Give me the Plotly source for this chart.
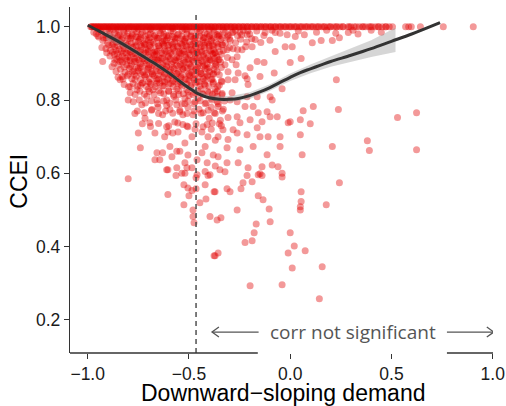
import plotly.graph_objects as go

# Subjects at the CCEI ceiling (CCEI = 1), by demand slope
ceiling_x = [-0.985, -0.978, -0.97, -0.962, -0.955, -0.947, -0.94, -0.931, -0.924, -0.916,
             -0.909, -0.9, -0.893, -0.885, -0.877, -0.87, -0.861, -0.853, -0.846, -0.838,
             -0.83, -0.822, -0.815, -0.806, -0.798, -0.79, -0.783, -0.774, -0.766, -0.758,
             -0.75, -0.742, -0.735, -0.726, -0.718, -0.71, -0.702, -0.694, -0.686, -0.678,
             -0.67, -0.661, -0.653, -0.645, -0.637, -0.628, -0.62, -0.611, -0.603, -0.595,
             -0.586, -0.578, -0.569, -0.561, -0.552, -0.544, -0.535, -0.527, -0.518, -0.51,
             -0.501, -0.492, -0.484, -0.475, -0.466, -0.457, -0.448, -0.44, -0.431, -0.422,
             -0.413, -0.404, -0.395, -0.386, -0.377, -0.368, -0.358, -0.349, -0.34, -0.33,
             -0.321, -0.311, -0.302, -0.292, -0.283, -0.273, -0.262, -0.252, -0.241, -0.231,
             -0.22, -0.21, -0.199, -0.188, -0.176, -0.165, -0.154, -0.142, -0.131, -0.119,
             -0.107, -0.095, -0.083, -0.071, -0.058, -0.046, -0.033, -0.02, -0.007, 0.006,
             0.019, 0.032, 0.046, 0.06, 0.073, 0.087, 0.1, 0.114, 0.128, 0.142, 0.156, 0.171,
             0.186, 0.2, 0.216, 0.231, 0.246, 0.262, 0.285, 0.3, 0.316, 0.341, 0.356, 0.372,
             0.389, 0.405, 0.421, 0.438, 0.455, 0.472, 0.489, 0.505, 0.57, 0.585, 0.598,
             0.643, 0.756, 0.904]
ceiling_x_more = [-0.98, -0.966, -0.951, -0.937, -0.92, -0.905, -0.889, -0.874, -0.858, -0.842,
                  -0.826, -0.81, -0.794, -0.779, -0.762, -0.746, -0.73, -0.714, -0.698, -0.682,
                  -0.665, -0.649, -0.633, -0.616, -0.6, -0.583, -0.566, -0.549, -0.532, -0.515,
                  -0.497, -0.48, -0.462, -0.444, -0.426, -0.408, -0.39, -0.371, -0.352, -0.333,
                  -0.314, -0.294, -0.274, -0.254, -0.233, -0.212, -0.19, -0.168, -0.145, -0.122,
                  -0.098, -0.074, -0.05, -0.025, 0.0, 0.026, 0.053, 0.08, 0.108, 0.137, 0.166,
                  0.196, 0.227, 0.259, 0.292, 0.326, 0.361, 0.397, 0.434, 0.472]

# Subjects just under the ceiling
near_top = [(-0.97, 0.985), (-0.95, 0.975), (-0.93, 0.99), (-0.91, 0.97), (-0.89, 0.982),
            (-0.87, 0.965), (-0.86, 0.99), (-0.84, 0.975), (-0.82, 0.985), (-0.80, 0.968),
            (-0.78, 0.98), (-0.77, 0.992), (-0.75, 0.972), (-0.73, 0.985), (-0.71, 0.965),
            (-0.70, 0.978), (-0.68, 0.99), (-0.66, 0.97), (-0.64, 0.983), (-0.62, 0.962),
            (-0.61, 0.975), (-0.59, 0.988), (-0.57, 0.97), (-0.55, 0.98), (-0.53, 0.965),
            (-0.51, 0.99), (-0.49, 0.975), (-0.47, 0.96), (-0.45, 0.985), (-0.43, 0.97),
            (-0.41, 0.98), (-0.39, 0.962), (-0.38, 0.99), (-0.35, 0.975), (-0.32, 0.985),
            (-0.30, 0.968), (-0.27, 0.99), (-0.24, 0.978), (-0.21, 0.988), (-0.361, 0.978),
            (-0.287, 0.984), (-0.248, 0.984), (-0.213, 0.978), (-0.173, 0.965), (-0.124, 0.984),
            (-0.074, 0.984), (-0.015, 0.978), (0.025, 0.973), (0.109, 0.956), (0.153, 0.962),
            (0.208, 0.962), (0.243, 0.97), (0.287, 0.984), (-0.95, 0.993), (-0.9, 0.994),
            (-0.85, 0.992), (-0.8, 0.995), (-0.75, 0.993), (-0.69, 0.994), (-0.63, 0.992),
            (-0.58, 0.995), (-0.52, 0.993), (-0.46, 0.994), (-0.4, 0.992),
            (-0.958, 0.981), (-0.936, 0.987), (-0.913, 0.978), (-0.892, 0.99), (-0.868, 0.983),
            (-0.847, 0.976), (-0.823, 0.99), (-0.802, 0.982), (-0.78, 0.975), (-0.758, 0.986),
            (-0.736, 0.979), (-0.713, 0.99), (-0.69, 0.981), (-0.668, 0.976), (-0.646, 0.989),
            (-0.623, 0.98), (-0.6, 0.975), (-0.578, 0.987), (-0.556, 0.978), (-0.533, 0.99),
            (-0.51, 0.98), (-0.488, 0.987), (-0.466, 0.976), (-0.443, 0.99), (-0.421, 0.982),
            (-0.398, 0.975), (-0.375, 0.986), (-0.352, 0.98), (-0.33, 0.99), (-0.306, 0.977),
            (-0.283, 0.985), (-0.26, 0.975), (-0.232, 0.99), (-0.2, 0.98), (-0.165, 0.988),
            (-0.13, 0.976), (-0.09, 0.99), (-0.05, 0.982), (0.04, 0.988), (0.07, 0.978),
            (0.13, 0.985), (0.18, 0.99), (0.225, 0.982), (0.31, 0.99), (0.335, 0.98),
            (0.4, 0.99), (0.45, 0.985)]

# Steep-demand cluster, CCEI roughly 0.85-0.97
upper_cluster = [(-0.93, 0.943), (-0.906, 0.929), (-0.88, 0.95), (-0.86, 0.935), (-0.84, 0.958),
                 (-0.82, 0.94), (-0.80, 0.952), (-0.79, 0.93), (-0.77, 0.945), (-0.75, 0.96),
                 (-0.74, 0.935), (-0.72, 0.95), (-0.70, 0.94), (-0.69, 0.958), (-0.67, 0.93),
                 (-0.65, 0.948), (-0.63, 0.96), (-0.62, 0.935), (-0.60, 0.95), (-0.58, 0.94),
                 (-0.57, 0.958), (-0.55, 0.932), (-0.53, 0.947), (-0.52, 0.96), (-0.50, 0.938),
                 (-0.48, 0.952), (-0.46, 0.93), (-0.44, 0.945), (-0.42, 0.958), (-0.40, 0.935),
                 (-0.385, 0.95), (-0.926, 0.905), (-0.88, 0.891), (-0.866, 0.91), (-0.84, 0.905),
                 (-0.83, 0.92), (-0.807, 0.896), (-0.79, 0.915), (-0.78, 0.877), (-0.77, 0.905),
                 (-0.76, 0.925), (-0.74, 0.89), (-0.73, 0.912), (-0.71, 0.9), (-0.70, 0.922),
                 (-0.68, 0.895), (-0.67, 0.91), (-0.66, 0.925), (-0.64, 0.9), (-0.63, 0.915),
                 (-0.61, 0.89), (-0.60, 0.92), (-0.58, 0.905), (-0.56, 0.895), (-0.55, 0.918),
                 (-0.53, 0.9), (-0.52, 0.925), (-0.50, 0.91), (-0.49, 0.89), (-0.47, 0.915),
                 (-0.45, 0.9), (-0.43, 0.92), (-0.42, 0.895), (-0.40, 0.91), (-0.38, 0.925),
                 (-0.37, 0.9), (-0.84, 0.855), (-0.83, 0.864), (-0.80, 0.87), (-0.767, 0.855),
                 (-0.75, 0.88), (-0.728, 0.847), (-0.72, 0.868), (-0.70, 0.885), (-0.693, 0.847),
                 (-0.68, 0.87), (-0.66, 0.858), (-0.65, 0.88), (-0.63, 0.852), (-0.62, 0.87),
                 (-0.60, 0.86), (-0.59, 0.882), (-0.57, 0.85), (-0.56, 0.872), (-0.54, 0.86),
                 (-0.53, 0.885), (-0.51, 0.855), (-0.50, 0.87), (-0.48, 0.86), (-0.47, 0.88),
                 (-0.45, 0.85), (-0.44, 0.872), (-0.42, 0.862), (-0.41, 0.885), (-0.39, 0.855),
                 (-0.38, 0.87),
                 (-0.925, 0.962), (-0.902, 0.955), (-0.879, 0.967), (-0.857, 0.958), (-0.833, 0.965),
                 (-0.812, 0.955), (-0.79, 0.968), (-0.766, 0.958), (-0.744, 0.966), (-0.722, 0.955),
                 (-0.7, 0.963), (-0.678, 0.957), (-0.655, 0.968), (-0.633, 0.956), (-0.611, 0.964),
                 (-0.588, 0.957), (-0.566, 0.967), (-0.543, 0.955), (-0.521, 0.965), (-0.498, 0.958),
                 (-0.476, 0.968), (-0.454, 0.955), (-0.431, 0.964), (-0.41, 0.956), (-0.388, 0.967),
                 (-0.365, 0.957), (-0.343, 0.965), (-0.32, 0.955), (-0.296, 0.962), (-0.27, 0.956),
                 (-0.245, 0.966), (-0.215, 0.958), (-0.19, 0.967), (-0.145, 0.957), (-0.1, 0.963),
                 (-0.91, 0.94), (-0.888, 0.935), (-0.866, 0.945), (-0.845, 0.938), (-0.823, 0.947),
                 (-0.8, 0.936), (-0.778, 0.943), (-0.756, 0.935), (-0.734, 0.946), (-0.712, 0.937),
                 (-0.69, 0.944), (-0.667, 0.934), (-0.645, 0.942), (-0.622, 0.947), (-0.6, 0.936),
                 (-0.577, 0.943), (-0.555, 0.945), (-0.533, 0.935), (-0.511, 0.946), (-0.489, 0.937),
                 (-0.467, 0.944), (-0.445, 0.935), (-0.423, 0.942), (-0.4, 0.947), (-0.378, 0.938),
                 (-0.356, 0.945), (-0.33, 0.935), (-0.3, 0.943), (-0.26, 0.938), (-0.22, 0.945),
                 (-0.89, 0.92), (-0.868, 0.925), (-0.846, 0.917), (-0.824, 0.928), (-0.802, 0.918),
                 (-0.78, 0.926), (-0.758, 0.915), (-0.736, 0.922), (-0.714, 0.928), (-0.692, 0.916),
                 (-0.67, 0.923), (-0.648, 0.915), (-0.626, 0.926), (-0.604, 0.918), (-0.582, 0.924),
                 (-0.56, 0.915), (-0.538, 0.927), (-0.516, 0.917), (-0.494, 0.923), (-0.472, 0.927),
                 (-0.45, 0.916), (-0.428, 0.924), (-0.406, 0.915), (-0.384, 0.926), (-0.362, 0.918),
                 (-0.34, 0.925), (-0.31, 0.916),
                 (-0.87, 0.9), (-0.85, 0.895), (-0.828, 0.903), (-0.806, 0.908), (-0.784, 0.897),
                 (-0.762, 0.905), (-0.74, 0.899), (-0.718, 0.907), (-0.696, 0.896), (-0.674, 0.903),
                 (-0.652, 0.908), (-0.63, 0.897), (-0.608, 0.904), (-0.586, 0.898), (-0.564, 0.907),
                 (-0.542, 0.896), (-0.52, 0.903), (-0.498, 0.899), (-0.476, 0.906), (-0.454, 0.895),
                 (-0.432, 0.904), (-0.41, 0.898), (-0.388, 0.907), (-0.366, 0.896), (-0.344, 0.904),
                 (-0.86, 0.878), (-0.838, 0.884), (-0.816, 0.876), (-0.794, 0.886), (-0.772, 0.879),
                 (-0.75, 0.887), (-0.728, 0.876), (-0.706, 0.883), (-0.684, 0.877), (-0.662, 0.886),
                 (-0.64, 0.878), (-0.618, 0.884), (-0.596, 0.876), (-0.574, 0.885), (-0.552, 0.877),
                 (-0.53, 0.883), (-0.508, 0.887), (-0.486, 0.876), (-0.464, 0.884), (-0.442, 0.878),
                 (-0.42, 0.886), (-0.398, 0.877), (-0.376, 0.883),
                 (-0.85, 0.862), (-0.826, 0.857), (-0.804, 0.866), (-0.782, 0.858), (-0.76, 0.865),
                 (-0.738, 0.856), (-0.716, 0.864), (-0.694, 0.858), (-0.672, 0.867), (-0.65, 0.857),
                 (-0.628, 0.863), (-0.606, 0.856), (-0.584, 0.866), (-0.562, 0.858), (-0.54, 0.864),
                 (-0.518, 0.857), (-0.496, 0.866), (-0.474, 0.856), (-0.452, 0.863), (-0.43, 0.858),
                 (-0.408, 0.866), (-0.386, 0.857)]

# Densest part of the cluster, second layer
core_cluster = [(-0.945, 0.972), (-0.921, 0.969), (-0.899, 0.974), (-0.876, 0.97), (-0.852, 0.973),
                (-0.829, 0.969), (-0.807, 0.974), (-0.784, 0.97), (-0.761, 0.973), (-0.739, 0.969),
                (-0.716, 0.974), (-0.693, 0.97), (-0.671, 0.973), (-0.649, 0.969), (-0.626, 0.974),
                (-0.604, 0.97), (-0.581, 0.973), (-0.559, 0.969), (-0.536, 0.974), (-0.514, 0.97),
                (-0.491, 0.973), (-0.469, 0.969), (-0.446, 0.974), (-0.424, 0.97), (-0.401, 0.973),
                (-0.379, 0.969), (-0.356, 0.974), (-0.334, 0.97), (-0.311, 0.973),
                (-0.897, 0.95), (-0.874, 0.953), (-0.851, 0.948), (-0.829, 0.952), (-0.806, 0.949),
                (-0.784, 0.953), (-0.761, 0.948), (-0.739, 0.951), (-0.716, 0.953), (-0.694, 0.949),
                (-0.671, 0.952), (-0.649, 0.948), (-0.626, 0.953), (-0.604, 0.949), (-0.581, 0.952),
                (-0.559, 0.948), (-0.536, 0.953), (-0.514, 0.949), (-0.491, 0.951), (-0.469, 0.948),
                (-0.446, 0.953), (-0.424, 0.949), (-0.401, 0.952), (-0.379, 0.948), (-0.356, 0.953),
                (-0.334, 0.95),
                (-0.877, 0.93), (-0.855, 0.927), (-0.833, 0.933), (-0.811, 0.929), (-0.789, 0.932),
                (-0.767, 0.928), (-0.745, 0.933), (-0.723, 0.929), (-0.701, 0.932), (-0.679, 0.928),
                (-0.657, 0.933), (-0.635, 0.929), (-0.613, 0.932), (-0.591, 0.928), (-0.569, 0.933),
                (-0.547, 0.929), (-0.525, 0.932), (-0.503, 0.928), (-0.481, 0.933), (-0.459, 0.929),
                (-0.437, 0.932), (-0.415, 0.928), (-0.393, 0.933), (-0.371, 0.929), (-0.349, 0.932),
                (-0.857, 0.912), (-0.835, 0.909), (-0.813, 0.913), (-0.791, 0.908), (-0.769, 0.912),
                (-0.747, 0.909), (-0.725, 0.913), (-0.703, 0.908), (-0.681, 0.912), (-0.659, 0.909),
                (-0.637, 0.913), (-0.615, 0.908), (-0.593, 0.912), (-0.571, 0.909), (-0.549, 0.913),
                (-0.527, 0.908), (-0.505, 0.912), (-0.483, 0.909), (-0.461, 0.913), (-0.439, 0.908),
                (-0.417, 0.912), (-0.395, 0.909), (-0.373, 0.913), (-0.351, 0.91),
                (-0.82, 0.89), (-0.79, 0.892), (-0.76, 0.889), (-0.73, 0.893), (-0.7, 0.889),
                (-0.67, 0.892), (-0.64, 0.889), (-0.61, 0.893), (-0.58, 0.889), (-0.55, 0.892),
                (-0.52, 0.889), (-0.49, 0.893), (-0.46, 0.889), (-0.43, 0.892), (-0.4, 0.889),
                (-0.37, 0.892), (-0.34, 0.889),
                (-0.77, 0.87), (-0.74, 0.873), (-0.71, 0.869), (-0.68, 0.872), (-0.65, 0.869),
                (-0.62, 0.873), (-0.59, 0.869), (-0.56, 0.872), (-0.53, 0.869), (-0.5, 0.873),
                (-0.47, 0.869), (-0.44, 0.872), (-0.41, 0.869), (-0.38, 0.872), (-0.35, 0.869),
                (-0.7, 0.85), (-0.66, 0.853), (-0.62, 0.849), (-0.58, 0.852), (-0.54, 0.849),
                (-0.5, 0.853), (-0.46, 0.849), (-0.42, 0.852), (-0.38, 0.849), (-0.34, 0.852)]

# CCEI roughly 0.68-0.85 on the steep-demand side
middle_cluster = [(-0.79, 0.836), (-0.757, 0.828), (-0.74, 0.84), (-0.708, 0.81), (-0.70, 0.83),
                  (-0.678, 0.828), (-0.66, 0.845), (-0.658, 0.80), (-0.64, 0.82), (-0.63, 0.838),
                  (-0.61, 0.80), (-0.60, 0.825), (-0.59, 0.845), (-0.575, 0.81), (-0.56, 0.83),
                  (-0.55, 0.815), (-0.54, 0.842), (-0.52, 0.805), (-0.51, 0.828), (-0.50, 0.812),
                  (-0.49, 0.84), (-0.47, 0.82), (-0.455, 0.805), (-0.44, 0.83), (-0.43, 0.815),
                  (-0.42, 0.84), (-0.40, 0.82), (-0.39, 0.805), (-0.37, 0.83), (-0.36, 0.81),
                  (-0.35, 0.84), (-0.80, 0.80), (-0.767, 0.763), (-0.733, 0.787), (-0.717, 0.75),
                  (-0.693, 0.738), (-0.683, 0.774), (-0.653, 0.78), (-0.63, 0.76), (-0.61, 0.785),
                  (-0.594, 0.774), (-0.57, 0.74), (-0.56, 0.787), (-0.545, 0.768), (-0.53, 0.76),
                  (-0.52, 0.79), (-0.505, 0.78), (-0.48, 0.76), (-0.47, 0.795), (-0.45, 0.775),
                  (-0.43, 0.765), (-0.42, 0.79), (-0.40, 0.75), (-0.39, 0.78), (-0.375, 0.765),
                  (-0.36, 0.795), (-0.345, 0.745), (-0.33, 0.775), (-0.75, 0.71), (-0.668, 0.71),
                  (-0.62, 0.70), (-0.61, 0.727), (-0.604, 0.713), (-0.58, 0.71), (-0.554, 0.713),
                  (-0.53, 0.733), (-0.505, 0.727), (-0.485, 0.70), (-0.47, 0.72), (-0.436, 0.713),
                  (-0.41, 0.733), (-0.406, 0.70), (-0.39, 0.72), (-0.37, 0.69), (-0.35, 0.735),
                  (-0.52, 0.683),
                  (-0.82, 0.842), (-0.798, 0.836), (-0.776, 0.845), (-0.754, 0.838), (-0.732, 0.846),
                  (-0.71, 0.837), (-0.688, 0.843), (-0.666, 0.836), (-0.644, 0.846), (-0.622, 0.838),
                  (-0.6, 0.844), (-0.578, 0.836), (-0.556, 0.845), (-0.534, 0.838), (-0.512, 0.843),
                  (-0.49, 0.836), (-0.468, 0.846), (-0.446, 0.838), (-0.424, 0.844), (-0.402, 0.837),
                  (-0.38, 0.845), (-0.358, 0.836),
                  (-0.79, 0.82), (-0.766, 0.815), (-0.742, 0.824), (-0.72, 0.816), (-0.696, 0.823),
                  (-0.672, 0.815), (-0.648, 0.826), (-0.624, 0.817), (-0.6, 0.823), (-0.576, 0.815),
                  (-0.552, 0.825), (-0.528, 0.817), (-0.504, 0.822), (-0.48, 0.815), (-0.456, 0.824),
                  (-0.432, 0.817), (-0.408, 0.823), (-0.384, 0.815), (-0.36, 0.824), (-0.336, 0.818),
                  (-0.775, 0.795), (-0.745, 0.8), (-0.715, 0.792), (-0.685, 0.798), (-0.655, 0.79),
                  (-0.625, 0.797), (-0.595, 0.792), (-0.565, 0.8), (-0.535, 0.79), (-0.505, 0.797),
                  (-0.475, 0.79), (-0.445, 0.798), (-0.415, 0.792), (-0.385, 0.8), (-0.355, 0.79),
                  (-0.325, 0.797),
                  (-0.755, 0.77), (-0.72, 0.765), (-0.685, 0.772), (-0.65, 0.763), (-0.615, 0.77),
                  (-0.58, 0.764), (-0.545, 0.772), (-0.51, 0.763), (-0.475, 0.77), (-0.44, 0.764),
                  (-0.405, 0.772), (-0.37, 0.763), (-0.335, 0.77),
                  (-0.73, 0.735), (-0.69, 0.728), (-0.65, 0.736), (-0.6, 0.73), (-0.555, 0.737),
                  (-0.51, 0.729), (-0.465, 0.735), (-0.43, 0.727), (-0.385, 0.737), (-0.34, 0.73)]

# Lower tail on the steep-demand side
lower_left = [(-0.74, 0.67), (-0.658, 0.656), (-0.644, 0.637), (-0.668, 0.637), (-0.63, 0.656),
              (-0.604, 0.61), (-0.594, 0.673), (-0.584, 0.645), (-0.56, 0.66), (-0.56, 0.615),
              (-0.545, 0.66), (-0.535, 0.60), (-0.51, 0.615), (-0.52, 0.629), (-0.505, 0.65),
              (-0.485, 0.615), (-0.46, 0.637), (-0.46, 0.596), (-0.436, 0.656), (-0.42, 0.673),
              (-0.41, 0.629), (-0.42, 0.605), (-0.396, 0.596), (-0.38, 0.65), (-0.37, 0.62),
              (-0.80, 0.585), (-0.604, 0.542), (-0.61, 0.61), (-0.564, 0.594), (-0.52, 0.60),
              (-0.525, 0.569), (-0.505, 0.56), (-0.50, 0.539), (-0.485, 0.553), (-0.465, 0.558),
              (-0.525, 0.514), (-0.48, 0.50), (-0.48, 0.482), (-0.475, 0.465), (-0.446, 0.52),
              (-0.416, 0.53), (-0.42, 0.569), (-0.465, 0.588), (-0.406, 0.594), (-0.396, 0.482),
              (-0.376, 0.55), (-0.376, 0.375)]

# Flatter / upward-sloping demand
right_side = [(-0.337, 0.951), (-0.312, 0.937), (-0.282, 0.94), (-0.238, 0.937), (-0.188, 0.945),
              (-0.074, 0.932), (-0.025, 0.945), (0.01, 0.945), (0.0, 0.902), (0.054, 0.913),
              (-0.356, 0.91), (-0.287, 0.91), (-0.262, 0.918), (-0.322, 0.896), (-0.163, 0.905),
              (-0.129, 0.902), (-0.198, 0.888), (-0.361, 0.877), (-0.307, 0.877), (-0.257, 0.874),
              (-0.223, 0.866), (-0.272, 0.855), (-0.213, 0.858), (-0.149, 0.864), (-0.079, 0.874),
              (-0.337, 0.85), (-0.307, 0.855), (-0.371, 0.82), (-0.337, 0.814), (-0.287, 0.82),
              (-0.208, 0.842), (-0.04, 0.831), (0.228, 0.855), (-0.356, 0.782), (-0.307, 0.752),
              (-0.262, 0.754), (-0.248, 0.738), (-0.282, 0.719), (-0.332, 0.719), (-0.356, 0.70),
              (-0.307, 0.692), (-0.262, 0.71), (-0.213, 0.705), (-0.163, 0.724), (-0.149, 0.70),
              (-0.109, 0.70), (-0.05, 0.70), (-0.01, 0.738), (0.05, 0.705), (0.064, 0.771),
              (0.114, 0.782), (0.099, 0.735), (0.238, 0.774), (0.208, 0.673), (0.059, 0.651),
              (-0.05, 0.673), (-0.114, 0.651), (-0.089, 0.623), (-0.183, 0.673), (-0.248, 0.664),
              (-0.312, 0.67), (-0.356, 0.645), (-0.312, 0.629), (-0.257, 0.629), (-0.208, 0.615),
              (-0.139, 0.618), (-0.06, 0.618), (-0.158, 0.596), (-0.347, 0.61), (-0.183, 0.782),
              (-0.114, 0.768), (-0.089, 0.80), (-0.099, 0.809), (-0.158, 0.765), (-0.139, 0.741),
              (-0.099, 0.754), (-0.064, 0.754), (-0.198, 0.746), (-0.223, 0.782), (-0.262, 0.795),
              (-0.297, 0.80), (-0.213, 0.809), (-0.163, 0.809), (-0.267, 0.896), (-0.371, 0.929),
              (0.05, 0.746), (0.0, 0.741), (0.53, 0.752), (0.624, 0.765), (0.381, 0.689),
              (0.391, 0.662), (0.624, 0.664), (-0.322, 0.604), (-0.371, 0.55), (-0.312, 0.558),
              (-0.297, 0.55), (-0.243, 0.558), (-0.233, 0.574), (-0.213, 0.594), (-0.188, 0.577),
              (-0.149, 0.599), (-0.139, 0.594), (-0.04, 0.60), (-0.04, 0.59), (-0.158, 0.539),
              (-0.134, 0.528), (-0.104, 0.503), (-0.099, 0.468), (-0.168, 0.462), (-0.178, 0.438),
              (-0.188, 0.416), (-0.223, 0.411), (-0.262, 0.50), (-0.342, 0.479), (-0.361, 0.473),
              (-0.356, 0.383), (-0.371, 0.375), (-0.198, 0.293), (-0.04, 0.296), (0.144, 0.258),
              (0.01, 0.342), (0.158, 0.345), (-0.01, 0.383), (0.02, 0.402), (0.074, 0.389),
              (0.0, 0.438), (0.054, 0.55), (0.054, 0.523), (0.05, 0.509), (0.05, 0.50),
              (0.178, 0.514), (0.243, 0.574)]

# Loess fit of CCEI on the demand slope, with its confidence band
fit_x = [-1.0, -0.95, -0.9, -0.85, -0.8, -0.75, -0.7, -0.65, -0.6, -0.55, -0.5, -0.45, -0.4,
         -0.35, -0.3, -0.25, -0.2, -0.15, -0.1, -0.05, 0.0, 0.05, 0.1, 0.15, 0.2, 0.3, 0.4,
         0.5, 0.6, 0.74]
fit_y = [1.004, 0.99, 0.975, 0.96, 0.944, 0.927, 0.91, 0.893, 0.874, 0.853, 0.833, 0.816,
         0.806, 0.802, 0.802, 0.805, 0.812, 0.822, 0.834, 0.848, 0.862, 0.875, 0.885, 0.895,
         0.905, 0.922, 0.94, 0.96, 0.98, 1.011]
band_x = [-0.91, -0.85, -0.8, -0.7, -0.6, -0.5, -0.4, -0.3, -0.2, -0.1, 0.0, 0.1, 0.2, 0.3,
          0.4, 0.52]
band_lo = [0.966, 0.95, 0.936, 0.903, 0.868, 0.827, 0.799, 0.794, 0.803, 0.825, 0.852, 0.873,
           0.891, 0.905, 0.917, 0.931]
band_hi = [0.990, 0.97, 0.952, 0.917, 0.880, 0.839, 0.813, 0.810, 0.821, 0.843, 0.872, 0.897,
           0.919, 0.939, 0.963, 0.997]

# Slope beyond which the correlation is not significant
slope_cutoff = -0.465
note_y = 0.167

x_ticks = [-1.0, -0.5, 0.0, 0.5, 1.0]
y_ticks = [0.2, 0.4, 0.6, 0.8, 1.0]

pts_x = list(ceiling_x) + list(ceiling_x_more)
pts_y = [1.0] * (len(ceiling_x) + len(ceiling_x_more))
for group in (near_top, upper_cluster, core_cluster, middle_cluster, lower_left, right_side):
    pts_x += [p[0] for p in group]
    pts_y += [p[1] for p in group]

AX = "#333333"
fig = go.Figure()
fig.add_trace(go.Scatter(
    x=pts_x, y=pts_y, mode="markers",
    marker=dict(size=7, color="rgba(226,0,0,0.4)", line=dict(width=0)),
    hoverinfo="skip", showlegend=False))
fig.add_trace(go.Scatter(
    x=band_x + band_x[::-1], y=band_hi + band_lo[::-1], mode="lines",
    fill="toself", fillcolor="rgba(153,153,153,0.4)", line=dict(width=0),
    hoverinfo="skip", showlegend=False))
fig.add_trace(go.Scatter(
    x=fit_x, y=fit_y, mode="lines", line=dict(color="#333333", width=3, shape="spline"),
    hoverinfo="skip", showlegend=False))

x_lo, x_hi = -1.0874, 1.0015
y_lo, y_hi = 0.1099, 1.0537

shapes = [
    # cutoff
    dict(type="line", xref="x", yref="paper", x0=slope_cutoff, x1=slope_cutoff, y0=0, y1=0.985,
         line=dict(color="#444444", width=1.4, dash="5px,4px")),
    # x axis line, interrupted behind the note
    dict(type="line", xref="paper", yref="paper", x0=0, x1=(-0.16 - x_lo) / (x_hi - x_lo),
         y0=0, y1=0, line=dict(color=AX, width=1.3)),
    dict(type="line", xref="paper", yref="paper", x0=(0.774 - x_lo) / (x_hi - x_lo), x1=1,
         y0=0, y1=0, line=dict(color=AX, width=1.3)),
    # arrows around the note
    dict(type="line", xref="x", yref="y", x0=-0.386, x1=-0.156, y0=note_y, y1=note_y,
         line=dict(color="#555555", width=1.3)),
    dict(type="line", xref="x", yref="y", x0=0.774, x1=1.005, y0=note_y, y1=note_y,
         line=dict(color="#555555", width=1.3)),
]
dx, dy = 0.034, 0.0136
shapes.append(dict(type="path", xref="x", yref="y",
                   path=f"M {-0.386 + dx},{note_y + dy} L -0.386,{note_y} L {-0.386 + dx},{note_y - dy}",
                   line=dict(color="#555555", width=1.3)))
shapes.append(dict(type="path", xref="x", yref="y",
                   path=f"M {1.005 - dx},{note_y + dy} L 1.005,{note_y} L {1.005 - dx},{note_y - dy}",
                   line=dict(color="#555555", width=1.3)))

fig.update_layout(
    width=506, height=406,
    margin=dict(l=70, r=13, t=7, b=53),
    paper_bgcolor="white", plot_bgcolor="white",
    font=dict(family="Liberation Sans, Arial, sans-serif", color="#1a1a1a"),
    shapes=shapes,
    annotations=[
        dict(x=0.308, y=note_y, xref="x", yref="y", text="corr not significant",
             showarrow=False, font=dict(family="Open Sans", size=19, color="#555555")),
        dict(x=-0.162, y=-0.051, xref="paper", yref="paper", text="0", showarrow=False,
             xanchor="right", yanchor="middle",
             font=dict(family="Liberation Sans", size=17, color="#333333")),
        dict(x=-0.1213, y=0.497, xref="paper", yref="paper", text="CCEI", textangle=-90,
             showarrow=False, xanchor="center", yanchor="middle",
             font=dict(family="Liberation Sans", size=23, color="#000000")),
        dict(x=0.5035, y=-0.117, xref="paper", yref="paper", text="Downward\u2212sloping demand",
             showarrow=False, xanchor="center", yanchor="middle",
             font=dict(family="Liberation Sans", size=23, color="#000000")),
    ],
    xaxis=dict(
        range=[x_lo, x_hi], tickvals=x_ticks, tickformat=".1f", automargin=False,
        showgrid=False, zeroline=False, showline=False,
        ticks="outside", ticklen=5, tickwidth=1.2, tickcolor=AX,
        tickfont=dict(size=17.5, color="#1a1a1a"),
    ),
    yaxis=dict(
        range=[y_lo, y_hi], tickvals=y_ticks, tickformat=".1f", automargin=False,
        showgrid=False, zeroline=False, showline=True, linecolor=AX, linewidth=1.3,
        ticks="outside", ticklen=5, tickwidth=1.2, tickcolor=AX,
        tickfont=dict(size=17.5, color="#1a1a1a"),
    ),
)

fig.write_html("out.html")
